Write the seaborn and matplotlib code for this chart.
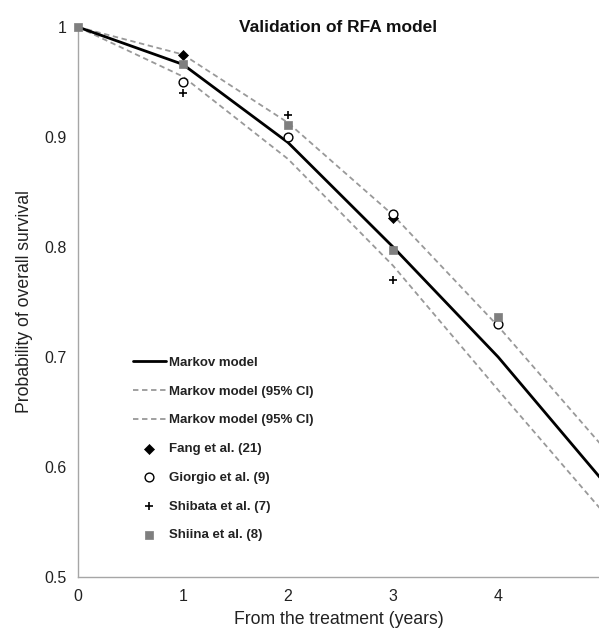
import matplotlib
matplotlib.use("Agg")
import matplotlib.pyplot as plt
import seaborn as sns
import pandas as pd

# --- data ---
MODEL_YEARS = [0, 1, 2, 3, 4, 5]
MARKOV = [1.0, 0.966, 0.895, 0.800, 0.700, 0.587]
MARKOV_UPPER = [1.0, 0.975, 0.913, 0.829, 0.728, 0.618]
MARKOV_LOWER = [1.0, 0.955, 0.880, 0.783, 0.670, 0.559]

FANG_YEARS = [1, 3]
FANG = [0.975, 0.826]
GIORGIO_YEARS = [1, 2, 3, 4]
GIORGIO = [0.950, 0.900, 0.830, 0.730]
SHIBATA_YEARS = [1, 2, 3]
SHIBATA = [0.940, 0.920, 0.770]
SHIINA_YEARS = [0, 1, 2, 3, 4]
SHIINA = [1.0, 0.966, 0.911, 0.797, 0.736]

X_TICKS = [0, 1, 2, 3, 4]
Y_TICKS = [0.5, 0.6, 0.7, 0.8, 0.9, 1.0]
Y_TICK_LABELS = ["0.5", "0.6", "0.7", "0.8", "0.9", "1"]

AXIS_GRAY = "#a6a6a6"
DASH_GRAY = "#999999"
SQUARE_GRAY = "#7f7f7f"
TEXT = "#222222"

sns.set_style("white")
plt.rcParams["font.family"] = ["Liberation Sans", "DejaVu Sans"]

fig = plt.figure(figsize=(5.99, 6.31), dpi=100)
ax = fig.add_axes([0.130, 0.0856, 0.870, 0.8716])

model = pd.DataFrame({"year": MODEL_YEARS, "mid": MARKOV,
                      "upper": MARKOV_UPPER, "lower": MARKOV_LOWER})

sns.lineplot(data=model, x="year", y="mid", ax=ax, color="black", lw=2.0,
             label="Markov model", zorder=3)
sns.lineplot(data=model, x="year", y="upper", ax=ax, color=DASH_GRAY, lw=1.3,
             linestyle=(0, (3, 2)), label="Markov model (95% CI)", zorder=2)
sns.lineplot(data=model, x="year", y="lower", ax=ax, color=DASH_GRAY, lw=1.3,
             linestyle=(0, (3, 2)), label="Markov model (95% CI)", zorder=2)

sns.scatterplot(x=FANG_YEARS, y=FANG, ax=ax, marker="D", s=26, color="black",
                edgecolor="black", linewidth=0.5, label="Fang et al. (21)",
                zorder=5, clip_on=False)
sns.scatterplot(x=GIORGIO_YEARS, y=GIORGIO, ax=ax, marker="o", s=40, color="white",
                edgecolor="black", linewidth=1.0, label="Giorgio et al. (9)",
                zorder=5, clip_on=False)
sns.scatterplot(x=SHIBATA_YEARS, y=SHIBATA, ax=ax, marker="+", s=40, color="black",
                linewidth=1.2, label="Shibata et al. (7)", zorder=5, clip_on=False)
sns.scatterplot(x=SHIINA_YEARS, y=SHIINA, ax=ax, marker="s", s=34, color=SQUARE_GRAY,
                edgecolor=SQUARE_GRAY, linewidth=0.5, label="Shiina et al. (8)",
                zorder=6, clip_on=False)

ax.set_xlim(0, 4.96)
ax.set_ylim(0.5, 1.0)
ax.set_xticks(X_TICKS)
ax.set_yticks(Y_TICKS)
ax.set_yticklabels(Y_TICK_LABELS)
ax.tick_params(axis="both", labelsize=11.5, colors=TEXT, length=3,
               color=AXIS_GRAY, width=1, direction="out")
ax.tick_params(axis="x", pad=6)
ax.tick_params(axis="y", pad=5)

for side in ["top", "right"]:
    ax.spines[side].set_visible(False)
for side in ["left", "bottom"]:
    ax.spines[side].set_color(AXIS_GRAY)
    ax.spines[side].set_linewidth(1.0)

ax.set_xlabel("From the treatment (years)", fontsize=12.7, color=TEXT, labelpad=5)
ax.set_ylabel("Probability of overall survival", fontsize=12.7, color=TEXT, labelpad=8)

ax.text(0.5, 1.0, "Validation of RFA model", transform=ax.transAxes, ha="center",
        va="center", fontsize=12.5, fontweight="bold", color="#111111")

leg = ax.legend(loc="upper left", bbox_to_anchor=(0.095, 0.41), frameon=False,
                prop={"weight": "bold", "size": 9.5}, handlelength=2.5,
                handletextpad=0.25, labelspacing=1.25, borderaxespad=0)
for t in leg.get_texts():
    t.set_color(TEXT)

fig.savefig("out.png", dpi=100)
